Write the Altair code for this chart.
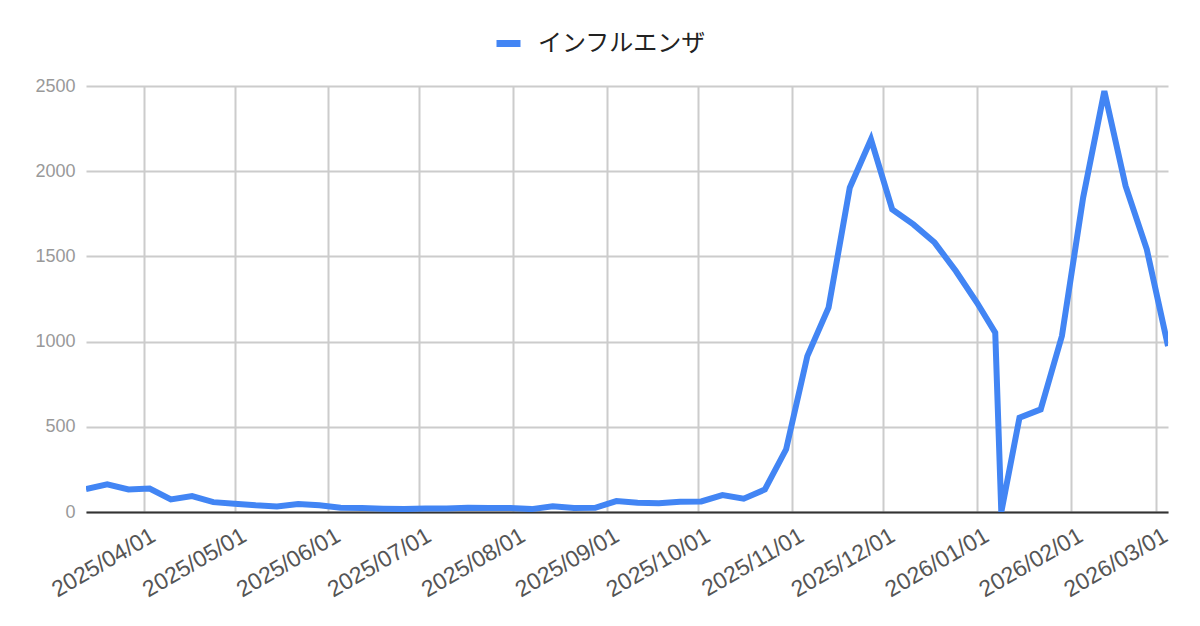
import altair as alt
import pandas as pd

dates = ["2025-03-13", "2025-03-20", "2025-03-27", "2025-04-03", "2025-04-10", "2025-04-17",
         "2025-04-24", "2025-05-01", "2025-05-08", "2025-05-15", "2025-05-22", "2025-05-29",
         "2025-06-05", "2025-06-12", "2025-06-19", "2025-06-26", "2025-07-03", "2025-07-10",
         "2025-07-17", "2025-07-24", "2025-07-31", "2025-08-07", "2025-08-14", "2025-08-21",
         "2025-08-28", "2025-09-04", "2025-09-11", "2025-09-18", "2025-09-25", "2025-10-02",
         "2025-10-09", "2025-10-16", "2025-10-23", "2025-10-30", "2025-11-06", "2025-11-13",
         "2025-11-20", "2025-11-27", "2025-12-04", "2025-12-11", "2025-12-18", "2025-12-25",
         "2026-01-01", "2026-01-07", "2026-01-09", "2026-01-15", "2026-01-22", "2026-01-29",
         "2026-02-05", "2026-02-12", "2026-02-19", "2026-02-26", "2026-03-05"]
values = [134, 163, 132, 138, 74, 93, 58, 48, 39, 33, 47, 39, 25, 23, 19, 17, 21, 21, 25, 23,
          23, 17, 33, 23, 25, 64, 54, 52, 60, 62, 99, 78, 132, 368, 915, 1199, 1903, 2187, 1776,
          1688, 1581, 1414, 1228, 1052, 0, 554, 602, 1033, 1845, 2470, 1913, 1541, 974]
series_name = "インフルエンザ"
y_ticks = [0, 500, 1000, 1500, 2000, 2500]
month_ticks = [(2025, m) for m in range(4, 13)] + [(2026, m) for m in range(1, 4)]

df = pd.DataFrame({"date": dates, "value": values, "series": series_name})

x_values = [alt.DateTime(year=y, month=m, date=1, utc=True) for y, m in month_ticks]

chart = alt.Chart(df).mark_line(strokeWidth=6, clip=True).encode(
    x=alt.X("date:T",
            scale=alt.Scale(type="utc", nice=False),
            axis=alt.Axis(values=x_values, format="%Y/%m/%d", title=None, grid=True,
                          gridColor="#cccccc", gridWidth=2, domain=True, domainColor="#333333",
                          domainWidth=2, ticks=False, labelAngle=330, labelAlign="right",
                          labelBaseline="top", labelFontSize=23,
                          labelColor="#555555", labelFont="Liberation Sans", labelPadding=12,
                          labelOffset=4, labelOverlap=False, labelFlush=False)),
    y=alt.Y("value:Q",
            scale=alt.Scale(domain=[0, 2500], nice=False),
            axis=alt.Axis(values=y_ticks, format="d", title=None, grid=True,
                          gridColor="#cccccc", gridWidth=2, domain=False, ticks=False,
                          labelFontSize=18, labelColor="#999999", labelFont="Liberation Sans",
                          labelPadding=11)),
    color=alt.Color("series:N",
                    scale=alt.Scale(range=["#4285F4"]),
                    legend=alt.Legend(title=None, orient="none", legendX=407, legendY=-58,
                                      direction="horizontal", symbolType="stroke",
                                      symbolStrokeWidth=7, symbolSize=576,
                                      labelFontSize=24, labelFont="Noto Sans CJK JP",
                                      labelColor="#222222", labelOffset=14, labelLimit=500)),
).properties(
    width=1082, height=426,
    autosize=alt.AutoSizeParams(type="none"),
    padding={"left": 78, "top": 78, "right": 24, "bottom": 106},
).configure_view(stroke=None)

chart.save("out.html", embed_options={"renderer": "svg", "actions": False})
